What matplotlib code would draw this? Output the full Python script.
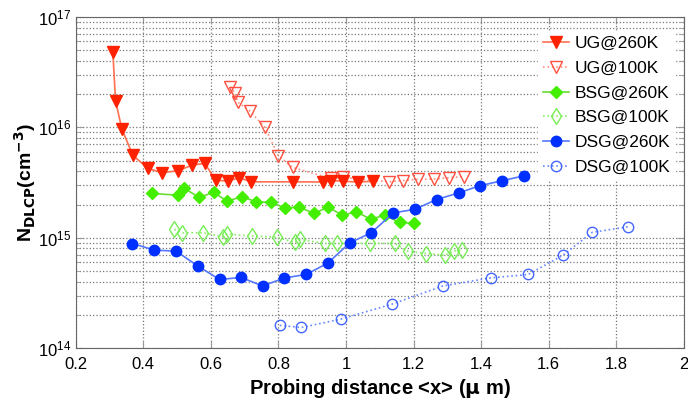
import matplotlib
matplotlib.use("Agg")
import matplotlib.pyplot as plt
import numpy as np

# UG @ 260K
ug260_x = [0.310, 0.318, 0.337, 0.369, 0.413, 0.456, 0.503, 0.545, 0.582, 0.614, 0.650, 0.684,
           0.720, 0.842, 0.932, 0.956, 0.990, 1.036, 1.080]
ug260_y = [4.8e16, 1.73e16, 9.6e15, 5.6e15, 4.25e15, 3.88e15, 4.05e15, 4.55e15, 4.72e15, 3.33e15,
           3.26e15, 3.49e15, 3.21e15, 3.21e15, 3.2e15, 3.3e15, 3.25e15, 3.2e15, 3.25e15]

# UG @ 100K
ug100_x = [0.658, 0.671, 0.680, 0.715, 0.759, 0.800, 0.842, 0.955, 0.992, 1.127, 1.169, 1.214,
           1.260, 1.305, 1.349]
ug100_y = [2.33e16, 2.03e16, 1.69e16, 1.41e16, 1.01e16, 5.5e15, 4.33e15, 3.45e15, 3.52e15, 3.21e15,
           3.3e15, 3.38e15, 3.4e15, 3.5e15, 3.57e15]

# BSG @ 260K
bsg260_x = [0.426, 0.502, 0.521, 0.566, 0.608, 0.648, 0.692, 0.734, 0.778, 0.819, 0.862, 0.906,
            0.947, 0.989, 1.031, 1.073, 1.114, 1.159, 1.201]
bsg260_y = [2.52e15, 2.43e15, 2.8e15, 2.32e15, 2.58e15, 2.15e15, 2.35e15, 2.12e15, 2.09e15, 1.87e15,
            1.89e15, 1.66e15, 1.9e15, 1.6e15, 1.72e15, 1.47e15, 1.6e15, 1.38e15, 1.35e15]

# BSG @ 100K
bsg100_x = [0.492, 0.516, 0.577, 0.636, 0.648, 0.722, 0.796, 0.848, 0.865, 0.939, 0.974, 1.071,
            1.144, 1.183, 1.238, 1.293, 1.319, 1.344]
bsg100_y = [1.19e15, 1.11e15, 1.11e15, 1.02e15, 1.08e15, 1.04e15, 1.01e15, 9.07e14, 9.66e14, 8.88e14,
            8.88e14, 8.9e14, 8.9e14, 7.55e14, 7.2e14, 6.95e14, 7.6e14, 7.8e14]

# DSG @ 260K
dsg260_x = [0.368, 0.433, 0.497, 0.561, 0.626, 0.690, 0.753, 0.818, 0.882, 0.947, 1.011, 1.075,
            1.140, 1.204, 1.268, 1.334, 1.396, 1.461, 1.527]
dsg260_y = [8.87e14, 7.73e14, 7.57e14, 5.56e14, 4.19e14, 4.37e14, 3.66e14, 4.33e14, 4.65e14, 5.92e14,
            9.0e14, 1.11e15, 1.68e15, 1.81e15, 2.22e15, 2.55e15, 2.96e15, 3.28e15, 3.64e15]

# DSG @ 100K
dsg100_x = [0.804, 0.868, 0.984, 1.135, 1.287, 1.428, 1.539, 1.642, 1.729, 1.836]
dsg100_y = [1.61e14, 1.54e14, 1.83e14, 2.5e14, 3.66e14, 4.33e14, 4.65e14, 6.95e14, 1.12e15, 1.26e15]

xticks = [0.2, 0.4, 0.6, 0.8, 1.0, 1.2, 1.4, 1.6, 1.8, 2.0]
xtick_labels = ["0.2", "0.4", "0.6", "0.8", "1", "1.2", "1.4", "1.6", "1.8", "2"]

plt.rcParams['font.family'] = ['Liberation Sans', 'DejaVu Sans']

fig = plt.figure(figsize=(6.88, 4.03), dpi=100)
ax = fig.add_axes([0.110, 0.136, 0.884, 0.822])

ax.plot(ug260_x, ug260_y, '-', color='#ff7050', lw=1.2, marker='v', ms=8,
        mfc='#ff2200', mec='#ff2200', label='UG@260K', zorder=5)
ax.plot(ug100_x, ug100_y, ':', color='#ff9080', lw=1.2, marker='v', ms=8,
        mfc='none', mec='#ff5040', mew=1.0, label='UG@100K', zorder=4)
ax.plot(bsg260_x, bsg260_y, '-', color='#66dd33', lw=1.2, marker='D', ms=6.5,
        mfc='#44ee00', mec='#44ee00', label='BSG@260K', zorder=5)
ax.plot(bsg100_x, bsg100_y, ':', color='#88ee66', lw=1.2, marker='d', ms=8,
        mfc='none', mec='#77ee55', mew=1.0, label='BSG@100K', zorder=4)
ax.plot(dsg260_x, dsg260_y, '-', color='#5577ff', lw=1.2, marker='o', ms=7.5,
        mfc='#0030ff', mec='#0030ff', label='DSG@260K', zorder=5)
ax.plot(dsg100_x, dsg100_y, ':', color='#6688ff', lw=1.2, marker='o', ms=7.5,
        mfc='none', mec='#4466ff', mew=1.0, label='DSG@100K', zorder=4)

ax.set_yscale('log')
ax.set_xlim(0.2, 2.0)
ax.set_ylim(1e14, 1e17)
ax.set_xticks(xticks)
ax.set_xticklabels(xtick_labels)

ax.grid(True, which='major', axis='both', ls=':', color='#777777', lw=0.9)
ax.grid(True, which='minor', axis='y', ls=':', color='#777777', lw=0.9)

ax.tick_params(which='both', direction='in', labelsize=12, top=True, right=True)
ax.tick_params(which='major', length=5, colors='#999999', labelcolor='black')
ax.tick_params(axis='x', pad=6)
ax.tick_params(which='minor', length=3, colors='#999999')
for s in ax.spines.values():
    s.set_color('#666666')

ax.set_xlabel('Probing distance <x> ($\\mathbf{\\mu}$ m)', fontsize=14.5, fontweight='bold', labelpad=4)
ax.set_ylabel('N$_{\\mathbf{DLCP}}$(cm$^{\\mathbf{-3}}$)', fontsize=14, fontweight='bold', labelpad=0)

leg = ax.legend(loc='upper right', bbox_to_anchor=(0.994, 0.945), bbox_transform=fig.transFigure,
                fontsize=12.5, frameon=True, framealpha=1.0, edgecolor='white',
                handlelength=1.5, handletextpad=0.3, labelspacing=0.55,
                fancybox=False, borderpad=0.3)
leg.set_zorder(10)

fig.savefig('out.png', dpi=100)
